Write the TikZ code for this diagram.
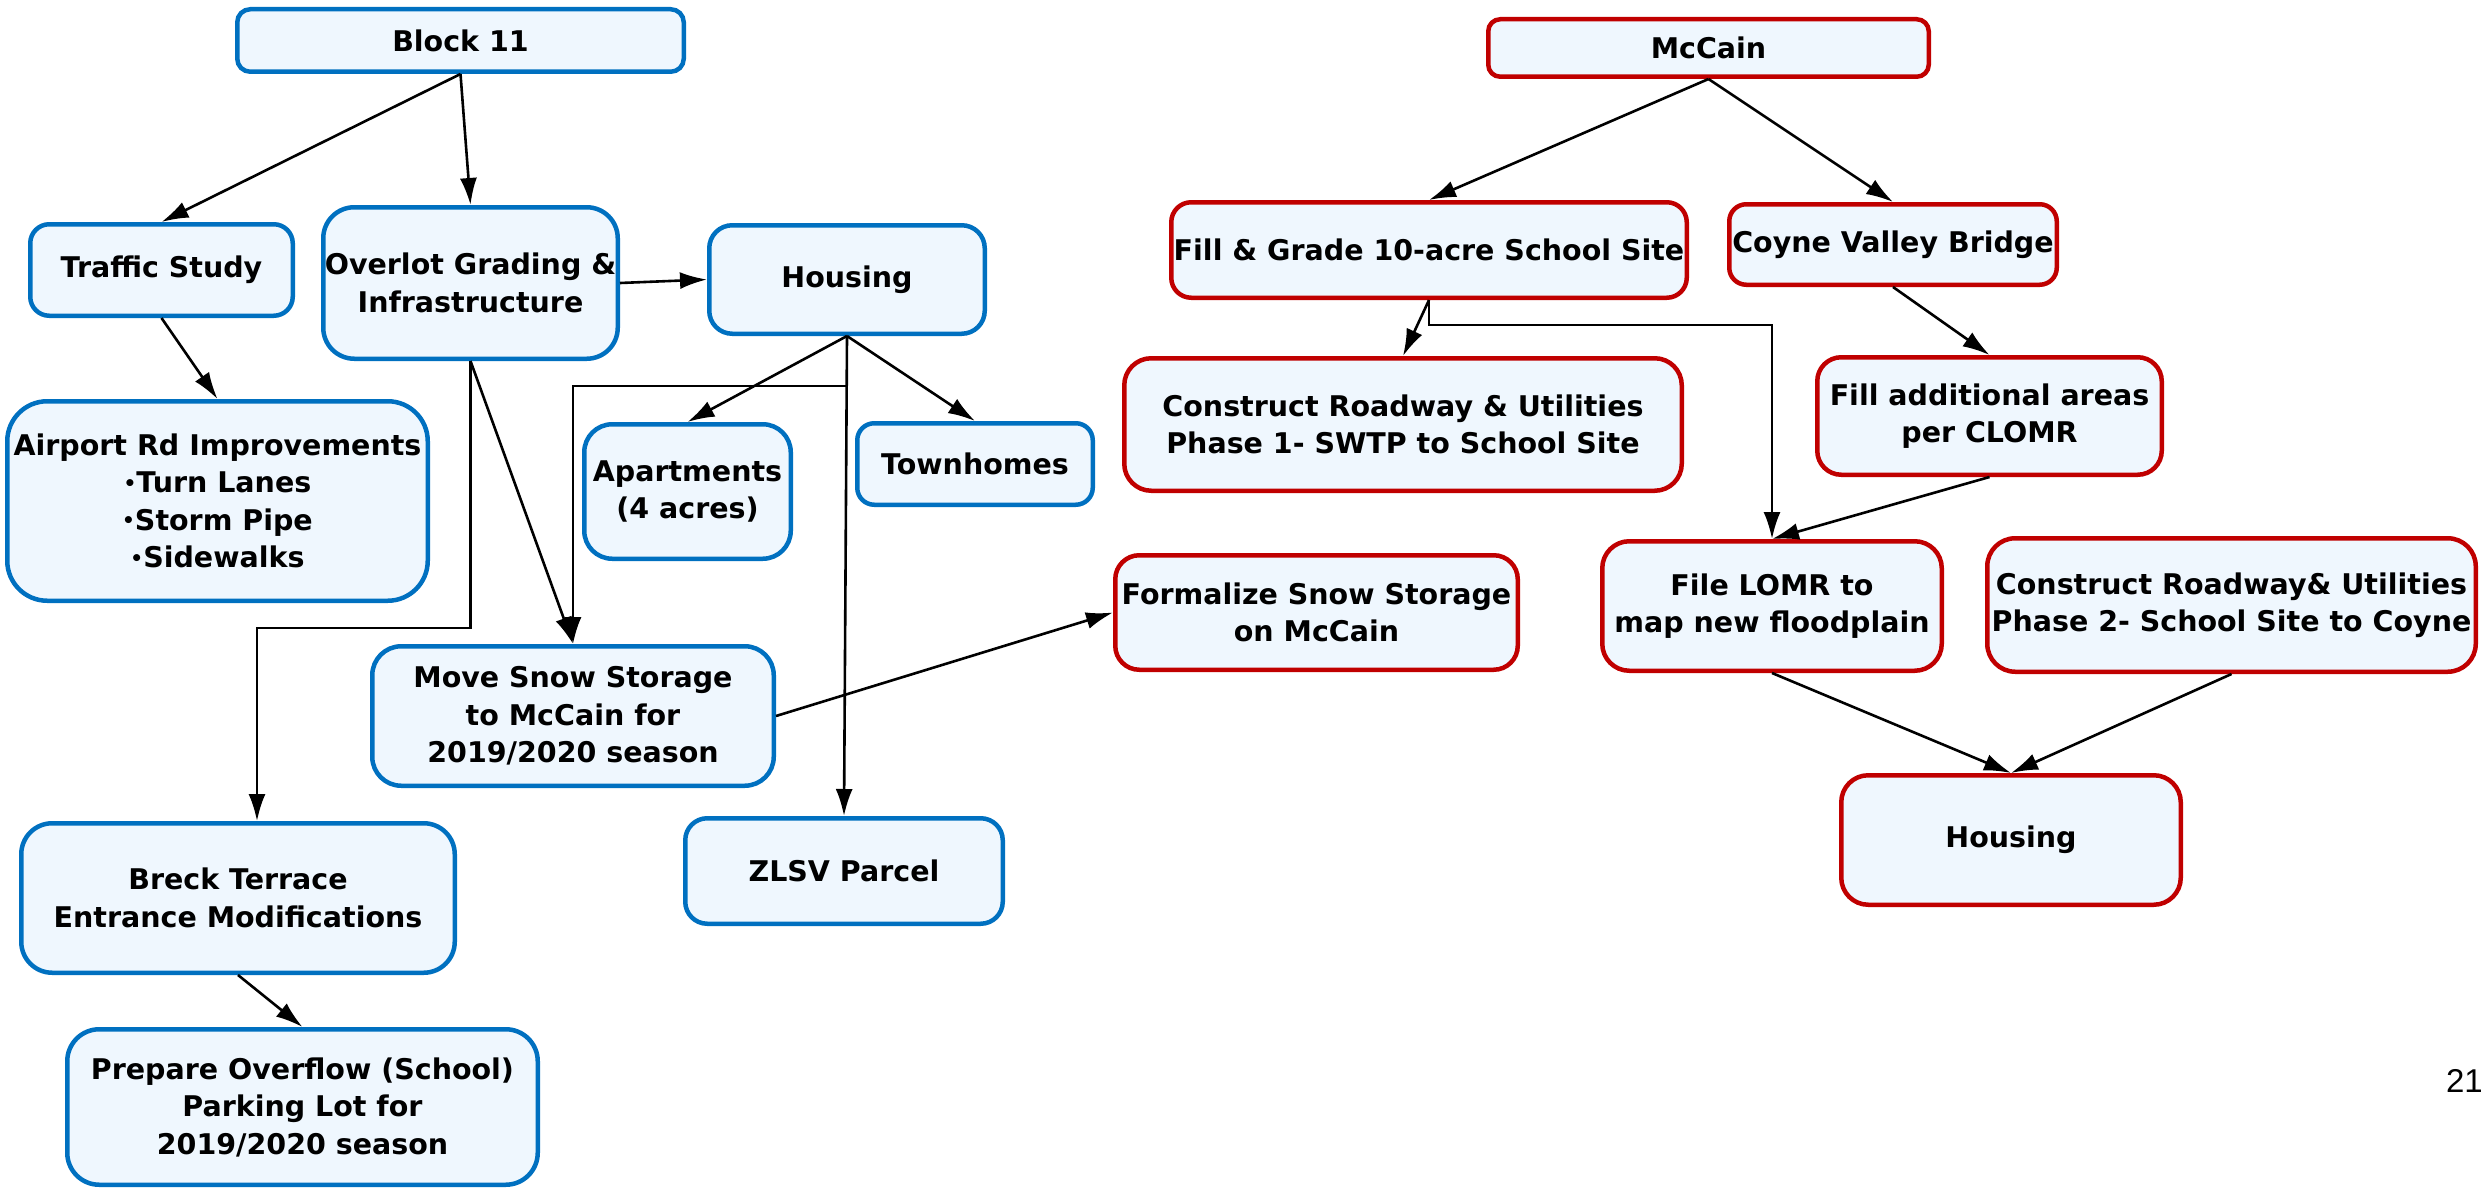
\documentclass[tikz,border=0pt]{standalone}
\usepackage{fontspec}
\setmainfont{DejaVu Sans}
\newfontfamily\arialfont{Liberation Sans}
\usetikzlibrary{arrows.meta}
\definecolor{boxfill}{HTML}{EFF7FE}
\definecolor{blueline}{HTML}{0070C0}
\definecolor{redline}{HTML}{C00000}
\newcommand{\smbul}{\raisebox{2.5pt}{\fontsize{20}{20}\selectfont•}}
\tikzset{
  bbox/.style={draw=blueline, fill=boxfill, line width=4.5pt, inner sep=0pt, align=center,
    font=\fontsize{28.5}{37.5}\selectfont\bfseries},
  rbox/.style={bbox, draw=redline},
  conn/.style={line width=2.6pt, -{Latex[length=27pt,width=17pt]}},
  plain/.style={line width=2.6pt}
}
\begin{document}
\begin{tikzpicture}[x=1pt,y=-1pt]
\useasboundingbox (0,0) rectangle (2484,1188);
% left (blue) boxes
\node[bbox, minimum width=446.5, minimum height=62.5, rounded corners=13] (block11) at (460.5,40.5) {Block 11};
\node[bbox, minimum width=262.5, minimum height=91.5, rounded corners=19] (traffic) at (161.5,270) {Traffic Study};
\node[bbox, minimum width=294.5, minimum height=151.5, rounded corners=31] (overlot) at (470.5,283) {Overlot Grading \&\\Infrastructure};
\node[bbox, minimum width=275.5, minimum height=108.5, rounded corners=23] (housing) at (847,279.5) {Housing};
\node[bbox, minimum width=420.5, minimum height=199.5, rounded corners=40] (airport) at (217.5,501) {Airport Rd Improvements\\\smbul Turn Lanes\\\smbul Storm Pipe\\\smbul Sidewalks};
\node[bbox, minimum width=206.5, minimum height=134.5, rounded corners=28] (apart) at (687.5,491.5) {Apartments\\(4 acres)};
\node[bbox, minimum width=235.5, minimum height=81.5, rounded corners=17] (town) at (975,464) {Townhomes};
\node[bbox, minimum width=401.5, minimum height=139.5, rounded corners=29] (move) at (573,716) {Move Snow Storage\\to McCain for\\2019/2020 season};
\node[bbox, minimum width=317.5, minimum height=105.5, rounded corners=22] (zlsv) at (844,871) {ZLSV Parcel};
\node[bbox, minimum width=433.5, minimum height=149.5, rounded corners=31] (breck) at (238,898) {Breck Terrace\\Entrance Modifications};
\node[bbox, minimum width=470.5, minimum height=155.5, rounded corners=32] (prepare) at (302.5,1107) {Prepare Overflow (School)\\Parking Lot for\\2019/2020 season};
% right (red) boxes
\node[rbox, minimum width=440.5, minimum height=57.5, rounded corners=12] (mccain) at (1708.5,48) {McCain};
\node[rbox, minimum width=515.5, minimum height=95.5, rounded corners=20] (fillgrade) at (1429,250) {Fill \& Grade 10-acre School Site};
\node[rbox, minimum width=327.5, minimum height=80.5, rounded corners=17] (coyne) at (1893,244.5) {Coyne Valley Bridge};
\node[rbox, minimum width=557.5, minimum height=132.5, rounded corners=27] (cons1) at (1403,424.5) {Construct Roadway \& Utilities\\Phase 1- SWTP to School Site};
\node[rbox, minimum width=344.5, minimum height=117.5, rounded corners=24] (filladd) at (1989.5,416) {Fill additional areas\\per CLOMR};
\node[rbox, minimum width=402.5, minimum height=114.5, rounded corners=24] (formalize) at (1316.5,612.5) {Formalize Snow Storage\\on McCain};
\node[rbox, minimum width=339.5, minimum height=129.5, rounded corners=27] (lomr) at (1772,606) {File LOMR to\\map new floodplain};
\node[rbox, minimum width=488.5, minimum height=133.5, rounded corners=28] (cons2) at (2231.5,605) {Construct Roadway\& Utilities\\Phase 2- School Site to Coyne};
\node[rbox, minimum width=339.5, minimum height=129.5, rounded corners=27] (housingR) at (2011,840) {Housing};
% page number
\node[anchor=base east, inner sep=0pt, font=\arialfont\fontsize{33}{33}\selectfont] (pagenum) at (2483,1092) {21};
% elbow coordinates
\coordinate (e1) at (257,628);
\coordinate (e2) at (573,386);
\coordinate (e3) at (1772,325);
% left connectors
\draw[conn] (block11.south) -- (traffic.north);
\draw[conn] (block11.south) -- (overlot.north);
\draw[conn] (traffic.south) -- (airport.north);
\draw[conn] (overlot.east) -- (housing.west);
\draw[conn] (overlot.south) -- (move.north);
\draw[conn] (overlot.south) |- (e1) -- (e1 |- breck.north);
\draw[conn] (housing.south) -- (apart.north);
\draw[conn] (housing.south) -- (town.north);
\draw[conn] (housing.south) |- (e2) -- (move.north);
\draw[conn] (housing.south) -- (zlsv.north);
\draw[conn] (move.east) -- (formalize.west);
\draw[conn] (breck.south) -- (prepare.north);
% right connectors
\draw[conn] (mccain.south) -- (fillgrade.north);
\draw[conn] (mccain.south) -- (coyne.north);
\draw[conn] (fillgrade.south) -- (cons1.north);
\draw[conn] (fillgrade.south) |- (e3) -- (lomr.north);
\draw[conn] (coyne.south) -- (filladd.north);
\draw[conn] (filladd.south) -- (lomr.north);
\draw[conn] (lomr.south) -- (housingR.north);
\draw[conn] (cons2.south) -- (housingR.north);
\end{tikzpicture}
\end{document}
